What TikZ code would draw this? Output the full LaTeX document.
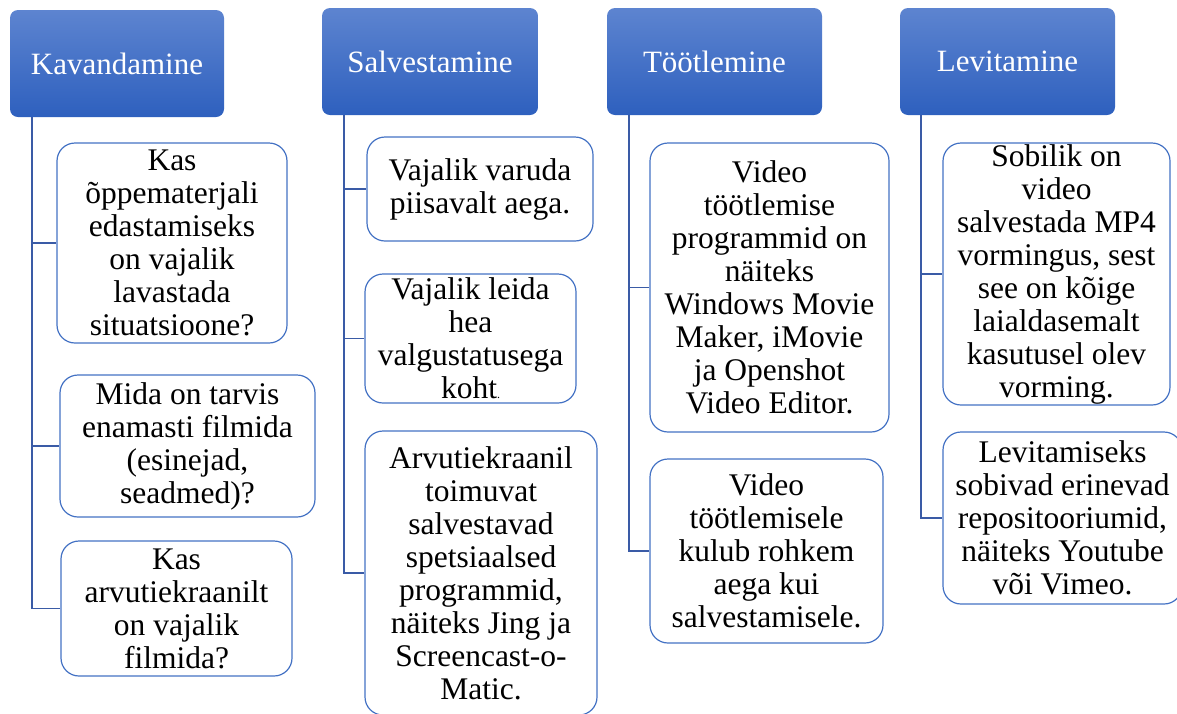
\documentclass[tikz,border=0pt]{standalone}
\usepackage{fontspec}
\setmainfont{Liberation Serif}
\definecolor{hdtop}{RGB}{93,132,208}
\definecolor{hdbot}{RGB}{46,96,190}
\definecolor{boxline}{RGB}{68,114,196}
\definecolor{connc}{RGB}{58,91,166}
\tikzset{
  header/.style={rounded corners=8pt, top color=hdtop, bottom color=hdbot, draw=none, inner sep=0pt, text=white, font=\fontsize{31}{33}\selectfont},
  itembox/.style={rounded corners=18pt, draw=boxline, line width=1.2pt, fill=white, inner sep=0pt},
  itemtext/.style={align=center, font=\fontsize{31.5}{33}\selectfont, inner sep=0pt},
  connline/.style={draw=connc, line width=1.5pt},
}
\begin{document}
\begin{tikzpicture}[x=1pt,y=-1pt]
\useasboundingbox (0,0) rectangle (1177,713);
% headers
\node[header, minimum width=214pt, minimum height=107pt] (h1) at (117,63.5) {Kavandamine};
\node[header, minimum width=216pt, minimum height=107pt] (h2) at (430,61.5) {Salvestamine};
\node[header, minimum width=215pt, minimum height=107pt] (h3) at (714.5,61.5) {Töötlemine};
\node[header, minimum width=215pt, minimum height=107pt] (h4) at (1007.5,61.5) {Levitamine};
% boxes
\node[itembox, minimum width=230pt, minimum height=200pt] (b11) at (172,243) {};
\node[itembox, minimum width=255pt, minimum height=142pt] (b12) at (187.5,446) {};
\node[itembox, minimum width=231pt, minimum height=135pt] (b13) at (176.5,608.5) {};
\node[itembox, minimum width=226pt, minimum height=104pt] (b21) at (480,189) {};
\node[itembox, minimum width=211pt, minimum height=129pt] (b22) at (470.5,338.5) {};
\node[itembox, minimum width=232pt, minimum height=284pt] (b23) at (481,573) {};
\node[itembox, minimum width=239pt, minimum height=289pt] (b31) at (769.5,287.5) {};
\node[itembox, minimum width=233pt, minimum height=184pt] (b32) at (766.5,551) {};
\node[itembox, minimum width=227pt, minimum height=262pt] (b41) at (1056.5,274) {};
\node[itembox, minimum width=239pt, minimum height=172pt] (b42) at (1062.5,518) {};
% texts
\node[itemtext] (t11) at (b11.center) {Kas\\õppematerjali\\edastamiseks\\on vajalik\\lavastada\\situatsioone?};
\node[itemtext] (t12) at (b12.center) {Mida on tarvis\\enamasti filmida\\(esinejad,\\seadmed)?};
\node[itemtext] (t13) at (b13.center) {Kas\\arvutiekraanilt\\on vajalik\\filmida?};
\node[itemtext] (t21) at (b21.center) {Vajalik varuda\\piisavalt aega.};
\node[itemtext] (t22) at (b22.center) {Vajalik leida\\hea\\valgustatusega\\koht{\fontsize{12}{12}\selectfont .}};
\node[itemtext] (t23) at (b23.center) {Arvutiekraanil\\toimuvat\\salvestavad\\spetsiaalsed\\programmid,\\näiteks Jing ja\\Screencast-o-\\Matic.};
\node[itemtext] (t31) at (b31.center) {Video\\töötlemise\\programmid on\\näiteks\\Windows Movie\\Maker, iMovie\\ja Openshot\\Video Editor.};
\node[itemtext] (t32) at (b32.center) {Video\\töötlemisele\\kulub rohkem\\aega kui\\salvestamisele.};
\node[itemtext] (t41) at (b41.center) {Sobilik on\\video\\salvestada MP4\\vormingus, sest\\see on kõige\\laialdasemalt\\kasutusel olev\\vorming.};
\node[itemtext] (t42) at (b42.center) {Levitamiseks\\sobivad erinevad\\repositooriumid,\\näiteks Youtube\\või Vimeo.};
% connectors
\coordinate (v1) at (32,117);
\coordinate (v2) at (344,115);
\coordinate (v3) at (629,115);
\coordinate (v4) at (921,115);
\draw[connline] (v1) |- (b11.west);
\draw[connline] (v1) |- (b12.west);
\draw[connline] (v1) |- (b13.west);
\draw[connline] (v2) |- (b21.west);
\draw[connline] (v2) |- (b22.west);
\draw[connline] (v2) |- (b23.west);
\draw[connline] (v3) |- (b31.west);
\draw[connline] (v3) |- (b32.west);
\draw[connline] (v4) |- (b41.west);
\draw[connline] (v4) |- (b42.west);
\end{tikzpicture}
\end{document}
